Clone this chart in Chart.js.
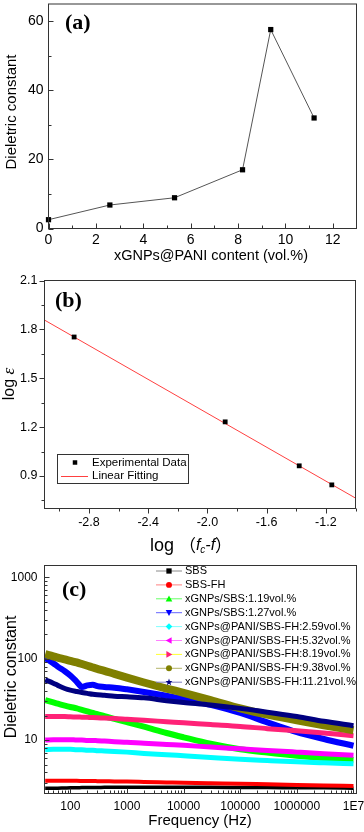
<!DOCTYPE html>
<html>
<head>
<meta charset="utf-8">
<script src="https://cdn.jsdelivr.net/npm/chart.js@4.4.0/dist/chart.umd.min.js"></script>
<style>
  html, body { margin: 0; padding: 0; background: #fff; }
  body { width: 364px; height: 832px; position: relative; overflow: hidden; }
  canvas { position: absolute; left: 0; }
</style>
</head>
<body>
<canvas id="chartA" width="364" height="270" style="top:0px"></canvas>
<canvas id="chartB" width="364" height="300" style="top:262px"></canvas>
<canvas id="chartC" width="364" height="276" style="top:556px"></canvas>
<script>
// (a) dielectric constant vs filler content
const aContent = [0, 2.59, 5.32, 8.19, 9.38, 11.21];
const aDielectric = [2.55, 6.8, 8.9, 17.0, 57.6, 32.0];
const aXTicks = [0, 2, 4, 6, 8, 10, 12];
const aXMinor = [1, 3, 5, 7, 9, 11];
const aYTicks = [0, 20, 40, 60];
const aYMinor = [10, 30, 50];

// (b) log eps vs log(fc - f)
const bLogDiff = [-2.9, -1.88, -1.38, -1.16];
const bLogEps = [1.753, 1.232, 0.962, 0.845];
const bFitX = [-3.1, -1.0];
const bFitY = [1.857, 0.764];
const bXTicks = [-2.8, -2.4, -2.0, -1.6, -1.2];
const bXMinor = [-3.0, -2.6, -2.2, -1.8, -1.4, -1.0];
const bYTicks = [0.9, 1.2, 1.5, 1.8, 2.1];
const bYMinor = [0.75, 1.05, 1.35, 1.65, 1.95];

// (c) frequency sweeps
const cFreq = [36, 50, 60, 80, 100, 130, 160, 200, 250, 300, 400, 600, 1000, 2000, 5000,
  10000, 30000, 100000, 300000, 1000000, 3000000, 10000000];
const cSBS = [2.55, 2.55, 2.56, 2.57, 2.58, 2.58, 2.6, 2.6, 2.61, 2.61, 2.62, 2.62, 2.62, 2.62, 2.62, 2.62, 2.62, 2.61, 2.6, 2.59, 2.58, 2.56];
const cSBSFH = [3.15, 3.15, 3.16, 3.16, 3.15, 3.15, 3.14, 3.13, 3.13, 3.12, 3.11, 3.1, 3.08, 3.05, 3.01, 2.98, 2.94, 2.9, 2.85, 2.8, 2.76, 2.72];
const cG119 = [31, 29, 28, 26.5, 25.5, 24.5, 23.5, 22.5, 21.5, 20.8, 19.6, 18.2, 16.6, 14.6, 12.2, 10.8, 9.0, 7.7, 7.0, 6.4, 6.0, 5.7];
const cG127 = [102, 88, 80, 70, 62, 52, 45, 47, 48, 46, 45, 44, 42, 39, 35, 32, 27, 21.5, 16.5, 12.5, 10.3, 8.5];
const cP259 = [7.6, 7.7, 7.7, 7.7, 7.7, 7.6, 7.6, 7.5, 7.5, 7.4, 7.35, 7.25, 7.1, 6.85, 6.6, 6.4, 6.1, 5.8, 5.6, 5.4, 5.25, 5.1];
const cP532 = [10.0, 10.1, 10.1, 10.1, 10.1, 10.0, 10.0, 9.9, 9.9, 9.8, 9.7, 9.55, 9.4, 9.1, 8.8, 8.6, 8.2, 7.8, 7.45, 7.1, 6.8, 6.5];
const cP819 = [19.5, 19.5, 19.4, 19.4, 19.3, 19.2, 19.1, 19.0, 18.9, 18.8, 18.6, 18.4, 18.0, 17.5, 16.8, 16.3, 15.5, 14.7, 13.8, 13.0, 12.2, 11.3];
const cP938 = [114, 107, 103, 98, 94, 90, 86, 82, 78, 75, 71, 65, 58.5, 51, 43, 38, 31, 24.5, 20.5, 17.5, 15.2, 13.2];
const cP1121 = [55, 50, 47, 43, 41, 39.5, 38.5, 37.5, 36.5, 36, 35.5, 34.5, 34, 33, 30.5, 29, 27, 24.5, 22, 19.5, 17, 15];
const cSeries = [cSBS, cSBSFH, cG119, cG127, cP259, cP532, cP819, cP938, cP1121];
const cNames = ['SBS', 'SBS-FH', 'xGNPs/SBS:1.19vol.%', 'xGNPs/SBS:1.27vol.%',
  'xGNPs@PANI/SBS-FH:2.59vol.%', 'xGNPs@PANI/SBS-FH:5.32vol.%', 'xGNPs@PANI/SBS-FH:8.19vol.%',
  'xGNPs@PANI/SBS-FH:9.38vol.%', 'xGNPs@PANI/SBS-FH:11.21vol.%'];
const cXTicks = [100, 1000, 10000, 100000, 1000000, 10000000];
const cXTickLabels = ['100', '1000', '10000', '100000', '1000000', '1E7'];
const cYTicks = [10, 100, 1000];

// styles for (c)
const cColors = ['#000000', '#ff0000', '#00ff00', '#0000ff', '#00ffff', '#ff00ff', '#ff2277', '#808000', '#000080'];
const cLegendLine = ['#8a8a8a', '#ff8080', '#66ff66', '#6666ff', '#80ffff', '#ff80ff', '#ffff30', '#b5b56a', '#7f7fc0'];
const cMarkers = ['rect', 'circle', 'up', 'down', 'diamond', 'left', 'right', 'circle', 'star'];
const cBand = [3.5, 4, 6, 6, 5, 5, 5, 8, 5];

Chart.defaults.font.family = "'Liberation Sans', Arial, Helvetica, sans-serif";
Chart.defaults.color = '#000';

function logMinors(min, max) {
  const out = [];
  for (let e = Math.floor(Math.log10(min)); e <= Math.ceil(Math.log10(max)); e++) {
    for (let k = 2; k <= 9; k++) {
      const v = k * Math.pow(10, e);
      if (v >= min && v <= max) out.push(v);
    }
  }
  return out;
}

function axis(type, min, max, majors, labels, minors, size, pad, fit, isX) {
  return {
    type, min, max,
    grid: { display: false, drawTicks: false },
    border: { display: false },
    afterBuildTicks: (s) => {
      s.ticks = majors.map((v, i) => ({ value: v, lbl: labels[i] }))
        .concat(minors.map((v) => ({ value: v, lbl: '' })))
        .sort((p, q) => p.value - q.value);
    },
    afterFit: (s) => {
      if (isX) s.height = fit; else s.width = fit;
      s.paddingLeft = s.paddingRight = s.paddingTop = s.paddingBottom = 0;
    },
    ticks: {
      autoSkip: false, maxRotation: 0, minRotation: 0, padding: pad,
      color: '#000', font: { size },
      callback: (v, i, t) => t[i].lbl
    }
  };
}

function marker(ctx, style, x, y, r) {
  ctx.beginPath();
  if (style === 'rect') ctx.rect(x - r * 0.8, y - r * 0.8, r * 1.6, r * 1.6);
  else if (style === 'circle') ctx.arc(x, y, r * 0.9, 0, Math.PI * 2);
  else if (style === 'up') { ctx.moveTo(x, y - r); ctx.lineTo(x + r, y + r * 0.8); ctx.lineTo(x - r, y + r * 0.8); }
  else if (style === 'down') { ctx.moveTo(x, y + r); ctx.lineTo(x + r, y - r * 0.8); ctx.lineTo(x - r, y - r * 0.8); }
  else if (style === 'left') { ctx.moveTo(x - r, y); ctx.lineTo(x + r * 0.8, y - r); ctx.lineTo(x + r * 0.8, y + r); }
  else if (style === 'right') { ctx.moveTo(x + r, y); ctx.lineTo(x - r * 0.8, y - r); ctx.lineTo(x - r * 0.8, y + r); }
  else if (style === 'diamond') { ctx.moveTo(x, y - r); ctx.lineTo(x + r, y); ctx.lineTo(x, y + r); ctx.lineTo(x - r, y); }
  else if (style === 'star') {
    for (let i = 0; i < 10; i++) {
      const a = -Math.PI / 2 + i * Math.PI / 5;
      const rr = i % 2 ? r * 0.45 : r * 1.1;
      ctx.lineTo(x + rr * Math.cos(a), y + rr * Math.sin(a));
    }
  }
  ctx.closePath();
  ctx.fill();
}

function drawRuns(ctx, runs, x, y, rot) {
  ctx.save();
  ctx.translate(x, y);
  if (rot) ctx.rotate(rot);
  ctx.textBaseline = 'middle';
  ctx.textAlign = 'left';
  ctx.fillStyle = '#000';
  let total = 0;
  for (const r of runs) { ctx.font = r.font; total += ctx.measureText(r.text).width; }
  let cx = r0(runs, total);
  for (const r of runs) {
    ctx.font = r.font;
    ctx.fillText(r.text, cx, r.dy || 0);
    cx += ctx.measureText(r.text).width;
  }
  ctx.restore();
}
function r0(runs, total) { return runs.align === 'left' ? 0 : -total / 2; }

// frame box + tick marks (Origin style)
function frame(opts) {
  return {
    id: 'frame',
    afterDatasetsDraw(chart) {
      const { ctx, chartArea: a, scales } = chart;
      const d = opts.inward ? -1 : 1;
      ctx.save();
      ctx.strokeStyle = '#333';
      ctx.lineWidth = 1;
      ctx.beginPath();
      for (const t of scales.x.ticks) {
        const p = Math.round(scales.x.getPixelForValue(t.value)) + 0.5;
        const len = t.lbl ? opts.major : opts.minor;
        ctx.moveTo(p, a.bottom);
        ctx.lineTo(p, a.bottom + d * len);
      }
      for (const t of scales.y.ticks) {
        const p = Math.round(scales.y.getPixelForValue(t.value)) + 0.5;
        const len = t.lbl ? opts.major : opts.minor;
        ctx.moveTo(a.left, p);
        ctx.lineTo(a.left - d * len, p);
      }
      ctx.stroke();
      ctx.strokeRect(a.left, a.top, a.right - a.left, a.bottom - a.top);
      ctx.restore();
    }
  };
}

// free text (titles, panel letters), page coordinates
function texts(top, items) {
  return {
    id: 'texts',
    afterDraw(chart) {
      const ctx = chart.ctx;
      for (const it of items) {
        const runs = it.runs || [{ text: it.text, font: it.font }];
        if (it.left) runs.align = 'left';
        drawRuns(ctx, runs, it.x, it.y - top, it.rot);
      }
    }
  };
}

const serifBold = "bold 22px 'Liberation Serif', 'Times New Roman', serif";
const sans = (s) => s + "px 'Liberation Sans', Arial, sans-serif";

// ---------- (a)
new Chart(document.getElementById('chartA'), {
  type: 'scatter',
  data: {
    datasets: [{
      data: aContent.map((x, i) => ({ x, y: aDielectric[i] })),
      showLine: true,
      borderColor: '#555',
      borderWidth: 1,
      pointStyle: 'rect',
      pointRadius: 3.7,
      pointBackgroundColor: '#000',
      pointBorderWidth: 0,
      clip: false
    }]
  },
  options: {
    responsive: false,
    animation: false,
    layout: { padding: { left: 0, top: 0.5, right: 7.5, bottom: 0 } },
    plugins: { legend: { display: false }, tooltip: { enabled: false } },
    scales: {
      x: axis('linear', 0, 13, aXTicks, aXTicks.map(String), aXMinor, 14, 3, 41.5, true),
      y: axis('linear', 0, 65, aYTicks, aYTicks.map(String), aYMinor, 14, 5, 48.5, false)
    }
  },
  plugins: [frame({ inward: true, major: 5, minor: 3 }), texts(0, [
    { text: '(a)', font: serifBold, x: 65, y: 23, left: true },
    { text: 'Dieletric constant', font: sans(15), x: 11.5, y: 112, rot: -Math.PI / 2 },
    { text: 'xGNPs@PANI content (vol.%)', font: sans(14.5), x: 211, y: 256 }
  ])]
});

// ---------- (b)
const legendB = {
  id: 'legendB',
  afterDraw(chart) {
    const ctx = chart.ctx;
    const top = 262;
    ctx.save();
    ctx.strokeStyle = '#333';
    ctx.lineWidth = 1;
    ctx.strokeRect(57.5, 454.5 - top, 131, 29);
    ctx.fillStyle = '#000';
    marker(ctx, 'rect', 75, 462.5 - top, 2.8);
    ctx.strokeStyle = '#ff4040';
    ctx.beginPath();
    ctx.moveTo(61, 476.5 - top);
    ctx.lineTo(88, 476.5 - top);
    ctx.stroke();
    ctx.fillStyle = '#000';
    ctx.font = sans(11.5);
    ctx.textBaseline = 'middle';
    ctx.textAlign = 'left';
    ctx.fillText('Experimental Data', 92, 462.5 - top);
    ctx.fillText('Linear Fitting', 92, 476 - top);
    ctx.restore();
  }
};

new Chart(document.getElementById('chartB'), {
  type: 'scatter',
  data: {
    datasets: [{
      label: 'Experimental Data',
      data: bLogDiff.map((x, i) => ({ x, y: bLogEps[i] })),
      pointStyle: 'rect',
      pointRadius: 3.4,
      pointBackgroundColor: '#000',
      pointBorderWidth: 0,
      clip: false
    }, {
      label: 'Linear Fitting',
      data: bFitX.map((x, i) => ({ x, y: bFitY[i] })),
      showLine: true,
      borderColor: '#ff4040',
      borderWidth: 1,
      pointRadius: 0
    }]
  },
  options: {
    responsive: false,
    animation: false,
    layout: { padding: { left: 0, top: 18.5, right: 8.5, bottom: 0 } },
    plugins: { legend: { display: false }, tooltip: { enabled: false } },
    scales: {
      x: axis('linear', -3.1, -1.0, bXTicks, bXTicks.map((v) => v.toFixed(1)), bXMinor, 12.5, 7, 53.5, true),
      y: axis('linear', 0.7, 2.1, bYTicks, bYTicks.map((v) => v.toFixed(1)), bYMinor, 12.5, 7, 44.5, false)
    }
  },
  plugins: [frame({ inward: false, major: 5, minor: 3 }), legendB, texts(262, [
    { text: '(b)', font: serifBold, x: 55, y: 301, left: true },
    { runs: [{ text: 'log ', font: sans(16) }, { text: 'ε', font: "italic 17px 'Liberation Serif', serif" }], x: 10, y: 384, rot: -Math.PI / 2 },
    { runs: [
      { text: 'log ', font: sans(18) },
      { text: '（', font: "17px 'Noto Sans CJK SC', sans-serif" },
      { text: 'f', font: "italic 16px 'Liberation Sans', Arial, sans-serif" },
      { text: 'c', font: "italic 10px 'Liberation Sans', Arial, sans-serif", dy: 4 },
      { text: '-f', font: "italic 16px 'Liberation Sans', Arial, sans-serif" },
      { text: '）', font: "17px 'Noto Sans CJK SC', sans-serif" }
    ], x: 191, y: 546 }
  ])]
});

// ---------- (c)
const legendC = {
  id: 'legendC',
  afterDraw(chart) {
    const ctx = chart.ctx;
    const top = 556;
    ctx.save();
    ctx.font = sans(11);
    ctx.textBaseline = 'middle';
    ctx.textAlign = 'left';
    cNames.forEach((name, i) => {
      const y = 571 + i * 13.9 - top;
      ctx.strokeStyle = cLegendLine[i];
      ctx.lineWidth = 1;
      ctx.beginPath();
      ctx.moveTo(156, y);
      ctx.lineTo(182, y);
      ctx.stroke();
      ctx.fillStyle = cColors[i];
      marker(ctx, cMarkers[i], 169, y, 3.3);
      ctx.fillStyle = '#000';
      ctx.fillText(name, 185, y);
    });
    ctx.restore();
  }
};

new Chart(document.getElementById('chartC'), {
  type: 'scatter',
  data: {
    datasets: cSeries.map((vals, i) => ({
      label: cNames[i],
      data: cFreq.map((x, j) => ({ x, y: vals[j] })),
      showLine: true,
      borderColor: cColors[i],
      borderWidth: cBand[i],
      borderCapStyle: 'butt',
      cubicInterpolationMode: 'monotone',
      pointRadius: 0,
      clip: 0,
      order: cSeries.length - i
    }))
  },
  options: {
    responsive: false,
    animation: false,
    layout: { padding: { left: 0, top: 9.5, right: 7.5, bottom: 0 } },
    plugins: { legend: { display: false }, tooltip: { enabled: false } },
    scales: {
      x: axis('logarithmic', 35, 11300000, cXTicks, cXTickLabels, logMinors(35, 11300000), 12, 6, 38.5, true),
      y: axis('logarithmic', 2.2, 1400, cYTicks, cYTicks.map(String), logMinors(2.2, 1400), 12, 7, 44.5, false)
    }
  },
  plugins: [frame({ inward: true, major: 5, minor: 3 }), legendC, texts(556, [
    { text: '(c)', font: serifBold, x: 62, y: 590, left: true },
    { text: 'Dieletric constant', font: sans(16), x: 11.5, y: 677, rot: -Math.PI / 2 },
    { text: 'Frequency (Hz)', font: sans(15), x: 200, y: 821 }
  ])]
});
</script>
</body>
</html>
